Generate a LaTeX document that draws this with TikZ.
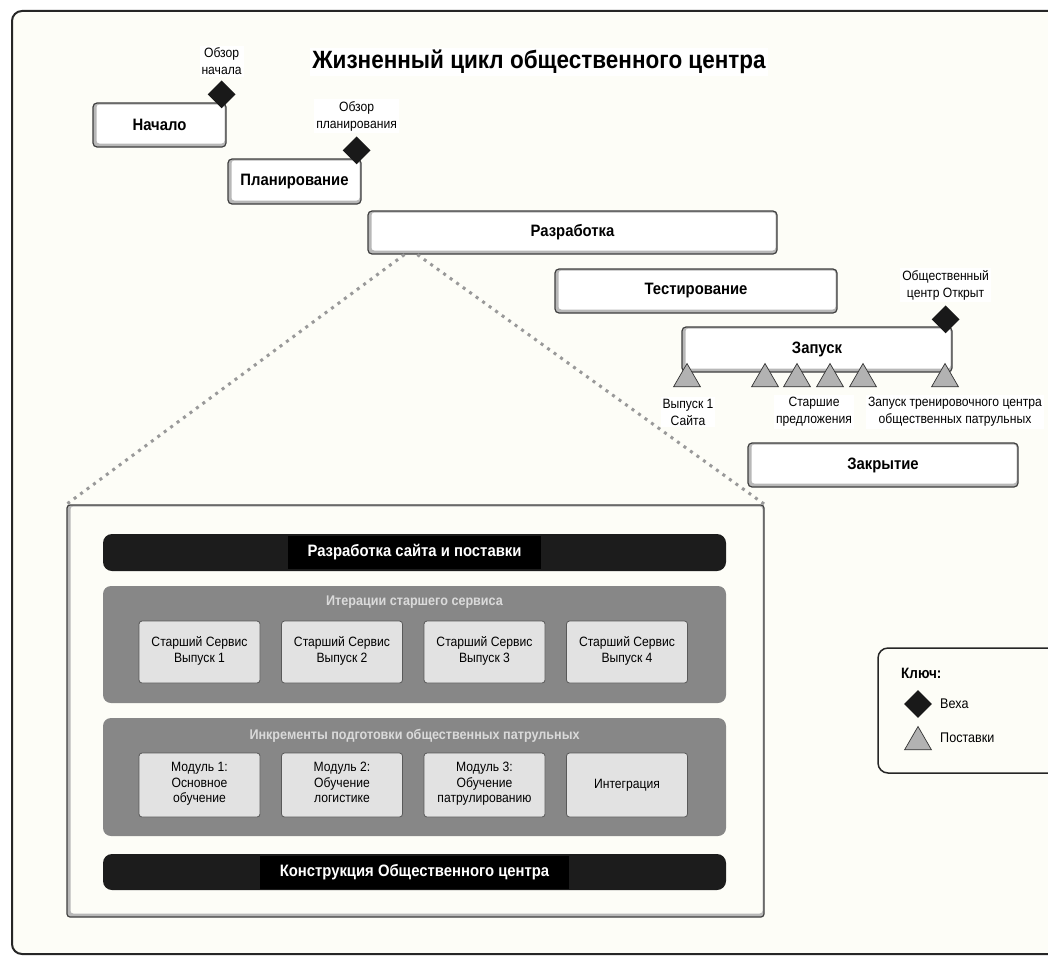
\documentclass[tikz,border=0pt]{standalone}
\usepackage{fontspec}
\setmainfont{Liberation Sans}[FakeStretch=0.9]
\usetikzlibrary{shapes.geometric,positioning}

\definecolor{paper}{HTML}{FDFDF7}
\definecolor{panelgray}{HTML}{878787}
\definecolor{itemgray}{HTML}{E2E2E2}
\definecolor{bargray}{HTML}{1C1C1C}
\definecolor{headgray}{HTML}{DADADA}
\definecolor{delgray}{HTML}{B2B2B2}

\tikzset{
  boxed/.style={draw=black!75, line width=1.2pt, fill=black!28, rounded corners=4pt,
    path picture={\fill[#1, rounded corners=3pt]
      ([xshift=3.5pt,yshift=3.5pt]path picture bounding box.south west) rectangle
      ([xshift=-1.5pt,yshift=-1.5pt]path picture bounding box.north east);}},
  phase/.style={boxed=white, font=\bfseries\fontsize{16.5}{19}\selectfont, inner sep=0pt},
  milestone/.style={diamond, fill=black!90, minimum width=28pt, minimum height=28pt, inner sep=0pt},
  deliverable/.style={regular polygon, regular polygon sides=3, draw=black!80, line width=0.7pt,
    fill=delgray, minimum size=31pt, inner sep=0pt},
  note/.style={fill=white, align=center, font=\fontsize{13.5}{17}\selectfont, inner sep=2pt},
  bar/.style={fill=bargray, rounded corners=9pt, minimum width=623pt},
  bartext/.style={fill=black, text=white, font=\bfseries\fontsize{16.5}{19}\selectfont,
    inner xsep=20pt, minimum height=33pt},
  panel/.style={fill=panelgray, rounded corners=8pt, minimum width=623pt},
  panelhead/.style={text=headgray, font=\bfseries\fontsize{14}{17}\selectfont, inner sep=1pt},
  item/.style={draw=black!65, line width=0.8pt, fill=itemgray, rounded corners=3pt,
    minimum width=121pt, align=center, font=\fontsize{13.5}{15.5}\selectfont,
    execute at begin node=\strut, execute at end node=\strut},
  zoomline/.style={black!40, line width=3pt, dash pattern=on 3pt off 5pt},
}

\begin{document}
\begin{tikzpicture}[x=1pt, y=-1pt]
\useasboundingbox (0,0) rectangle (1048,958);
\fill[white] (0,0) rectangle (1048,958);
\draw[line width=2pt, black!85, fill=paper, rounded corners=10pt] (12,11) rectangle (1080,954);

\node[note, font=\bfseries\fontsize{25}{30}\selectfont] (title) at (539,62) {Жизненный цикл общественного центра};

% phases
\node[phase, minimum width=133pt, minimum height=44pt] (start) at (159.5,125) {Начало};
\node[phase, minimum width=133pt, minimum height=45pt] (plan) at (294.5,181.5) {Планирование};
\node[phase, minimum width=409pt, minimum height=43pt] (dev) at (572.5,232.5) {Разработка};
\node[phase, minimum width=282pt, minimum height=44pt] (test) at (696,291) {Тестирование};
\node[phase, minimum width=270pt, minimum height=45pt] (launch) at (817,349.5) {Запуск};
\node[phase, minimum width=270pt, minimum height=44pt] (close) at (883,465) {Закрытие};

% milestones
\node[milestone] (m1) at ([xshift=-5pt,yshift=8pt]start.north east) {};
\node[milestone] (m2) at ([xshift=-5pt,yshift=8pt]plan.north east) {};
\node[milestone] (m3) at ([xshift=-7pt,yshift=7pt]launch.north east) {};
\node[note, above=3pt of m1] (m1text) {Обзор\\начала};
\node[note, above=3pt of m2] (m2text) {Обзор\\планирования};
\node[note, above=3pt of m3] (m3text) {Общественный\\центр Открыт};

% deliverables
\foreach \n/\x in {1/687, 2/765, 3/797, 4/830, 5/863, 6/945}
  \node[deliverable] (d\n) at (\x,379) {};
\node[note] (d1text) at (688,412) {Выпуск 1\\Сайта};
\node[note] (d2text) at (814,412) {Старшие\\предложения};
\node[note] (d6text) at (955,412) {Запуск тренировочного центра\\общественных патрульных};

% detail of development
\node[boxed=paper, minimum width=697pt, minimum height=412pt, rounded corners=3pt] (detail) at (415.5,711) {};
\coordinate (devL) at ([xshift=37pt]dev.south west);
\coordinate (devR) at ([xshift=50pt]dev.south west);
\draw[zoomline] (devL) -- (detail.north west);
\draw[zoomline] (devR) -- (detail.north east);

\node[bar, minimum height=37pt] (webbar) at (414.5,552.5) {};
\node[bartext] (webtext) at (webbar) {Разработка сайта и поставки};

\node[panel, minimum height=117pt] (svcpanel) at (414.5,644.5) {};
\node[panelhead] (svchead) at (414.5,602) {Итерации старшего сервиса};
\foreach \i in {1,...,4}
  \node[item, minimum height=62pt] (svc\i) at (57+142.5*\i,652) {Старший Сервис\\Выпуск \i};

\node[panel, minimum height=118pt] (modpanel) at (414.5,777) {};
\node[panelhead] (modhead) at (414.5,736) {Инкременты подготовки общественных патрульных};
\foreach \i/\txt in {1/{Модуль 1:\\Основное\\обучение}, 2/{Модуль 2:\\Обучение\\логистике},
    3/{Модуль 3:\\Обучение\\патрулированию}, 4/{Интеграция}}
  \node[item, minimum height=64pt] (mod\i) at (57+142.5*\i,785) {\txt};

\node[bar, minimum height=36pt] (buildbar) at (414.5,872) {};
\node[bartext] (buildtext) at (buildbar) {Конструкция Общественного центра};

% key
\draw[line width=1.5pt, black!85, fill=paper, rounded corners=10pt] (878,648) rectangle (1080,773);
\node[anchor=west, font=\bfseries\fontsize{15}{18}\selectfont, inner sep=0pt] (keyhead) at (901,673) {Ключ:};
\node[milestone] (keym) at (918,704) {};
\node[anchor=west, font=\fontsize{14}{17}\selectfont, inner sep=0pt] (keymtext) at (940,704) {Веха};
\node[deliverable] (keyd) at (918,742) {};
\node[anchor=west, font=\fontsize{14}{17}\selectfont, inner sep=0pt] (keydtext) at (940,738) {Поставки};
\end{tikzpicture}
\end{document}
